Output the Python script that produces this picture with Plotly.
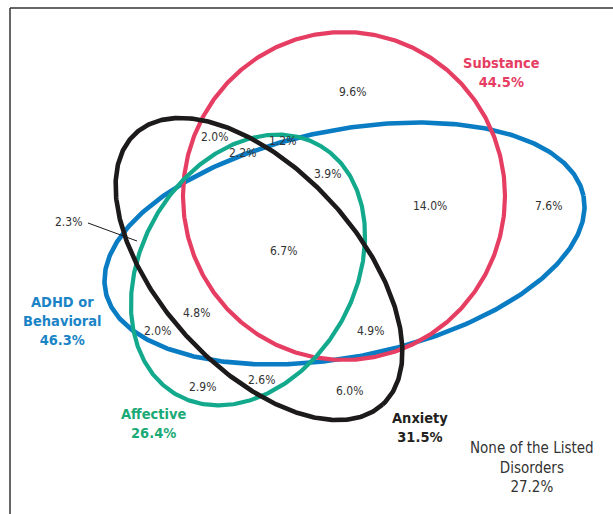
import numpy as np
import plotly.graph_objects as go

# ---- data ----
set_names = ["Substance", "ADHD or<br>Behavioral", "Affective", "Anxiety"]
set_totals = [44.5, 46.3, 26.4, 31.5]
region_values = [9.6, 2.0, 1.2, 2.2, 3.9, 14.0, 7.6, 2.3, 6.7, 4.8, 2.0, 4.9, 2.9, 2.6, 6.0]
none_label = "None of the Listed<br>Disorders"
none_value = 27.2

# ---- layout (pixel space, y downward) ----
W, H = 613, 514
set_colors = ["#E63D63", "#0A7CC3", "#12A98C", "#1C1A1A"]
label_colors = ["#E63D63", "#1A84C6", "#1BAA76", "#231F20"]
# ellipse geometry: cx, cy, semi-axis a, semi-axis b, rotation (deg)
ellipse_geom = [
    (344, 196, 161, 164, 0),
    (344.5, 243.5, 243.7, 113.4, -11.25),
    (248, 270, 143.7, 106.7, -60),
    (259, 269, 183.4, 98.7, 47.7),
]
line_widths = [4.2, 4.6, 4.2, 4.6]
draw_order = [1, 0, 2, 3]
region_pos = [(352, 92), (214, 137), (282, 141), (242, 153), (327, 174), (430, 206),
              (548, 206), (68, 222), (283, 251), (196, 313), (157, 331), (370, 331),
              (202, 387), (261, 380), (349, 391)]
set_label_pos = [(501, 72), (62, 321), (153, 423), (420, 427)]
none_pos = (532, 467)

FONT = "DejaVu Sans Condensed, Liberation Sans Narrow, sans-serif"

fig = go.Figure()
t = np.linspace(0, 2 * np.pi, 500)
for i in draw_order:
    cx, cy, a, b, rot = ellipse_geom[i]
    r = np.deg2rad(rot)
    x = cx + a * np.cos(t) * np.cos(r) - b * np.sin(t) * np.sin(r)
    y = cy + a * np.cos(t) * np.sin(r) + b * np.sin(t) * np.cos(r)
    fig.add_trace(go.Scatter(x=x, y=y, mode="lines",
                             line=dict(color=set_colors[i], width=line_widths[i]),
                             hoverinfo="skip", showlegend=False))

annotations = []
for v, (x, y) in zip(region_values, region_pos):
    annotations.append(dict(x=x, y=y, text=f"{v:.1f}%", showarrow=False,
                            font=dict(family=FONT, size=12, color="#333333")))
for name, tot, (x, y), c in zip(set_names, set_totals, set_label_pos, label_colors):
    annotations.append(dict(x=x, y=y, text=f"<b>{name}<br>{tot:.1f}%</b>", showarrow=False,
                            font=dict(family=FONT, size=14.5, color=c)))
annotations.append(dict(x=none_pos[0], y=none_pos[1], text=f"{none_label}<br>{none_value:.1f}%",
                        showarrow=False, font=dict(family=FONT, size=15, color="#333333")))

shapes = [
    dict(type="line", x0=10, y0=8, x1=10, y1=H, line=dict(color="#333333", width=1.5)),
    dict(type="line", x0=10, y0=8, x1=W, y1=8, line=dict(color="#333333", width=1.5)),
    dict(type="line", x0=88, y0=223, x1=137, y1=241, line=dict(color="#1C1A1A", width=1)),
]

fig.update_layout(
    width=W, height=H, margin=dict(l=0, r=0, t=0, b=0),
    paper_bgcolor="white", plot_bgcolor="white",
    xaxis=dict(range=[0, W], visible=False, fixedrange=True),
    yaxis=dict(range=[H, 0], visible=False, fixedrange=True),
    annotations=annotations, shapes=shapes, showlegend=False,
)
fig.write_html("out.html", config={"displayModeBar": False},
               post_script="document.body.style.margin='0';document.body.style.padding='0';"
                           "document.documentElement.style.overflow='hidden';")
